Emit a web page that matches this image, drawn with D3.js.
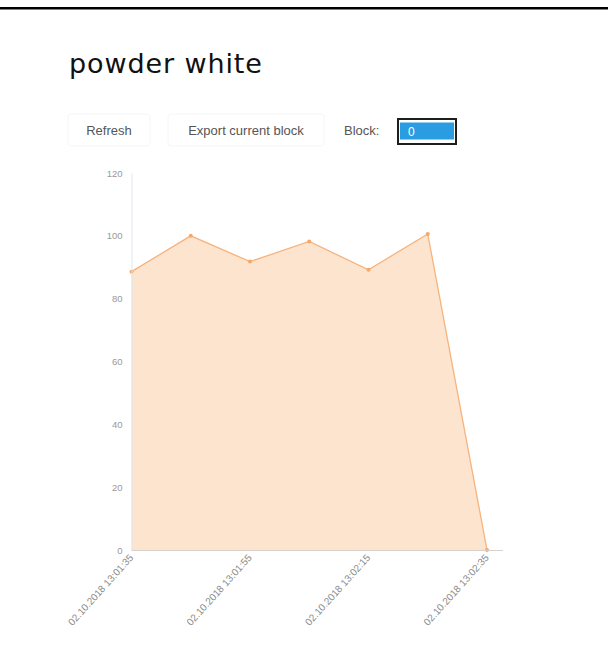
<!DOCTYPE html>
<html><head><meta charset="utf-8">
<script src="https://cdn.jsdelivr.net/npm/d3@7"></script>
<style>
html,body{margin:0;padding:0;background:#fff;}
svg{display:block;}
</style></head>
<body>
<svg id="chart" width="608" height="671"></svg>
<script>
const title = "powder white";
const timeLabels = ["02.10.2018 13:01:35","02.10.2018 13:01:45","02.10.2018 13:01:55","02.10.2018 13:02:05","02.10.2018 13:02:15","02.10.2018 13:02:25","02.10.2018 13:02:35"];
const values = [88.6, 100, 91.8, 98.2, 89.2, 100.6, 0];
const shownTicks = ["02.10.2018 13:01:35","02.10.2018 13:01:55","02.10.2018 13:02:15","02.10.2018 13:02:35"];
const yTicks = [0, 20, 40, 60, 80, 100, 120];
const buttonLabels = ["Refresh", "Export current block"];
const blockLabel = "Block:";
const blockValue = "0";

const parse = d3.timeParse("%d.%m.%Y %H:%M:%S");
const data = timeLabels.map((t, i) => ({t: parse(t), v: values[i]}));

const svg = d3.select("#chart");

// top black rule
svg.append("rect").attr("x", 0).attr("y", 7).attr("width", 608).attr("height", 2.5).attr("fill", "#000");

// title
svg.append("text").attr("x", 69).attr("y", 73)
  .attr("font-family", "DejaVu Sans, Verdana, sans-serif").attr("font-size", 27)
  .attr("letter-spacing", 0.9).attr("fill", "#111").text(title);

// buttons
const btnFont = "Liberation Sans, Arial, sans-serif";
const btns = [{x: 68, w: 82}, {x: 168, w: 156}];
buttonLabels.forEach((b, i) => {
  svg.append("rect").attr("x", btns[i].x).attr("y", 114).attr("width", btns[i].w).attr("height", 32)
    .attr("rx", 3).attr("fill", "#fff").attr("stroke", "#f6f6f6");
  svg.append("text").attr("x", btns[i].x + btns[i].w / 2).attr("y", 134.5)
    .attr("text-anchor", "middle").attr("font-family", btnFont).attr("font-size", 13)
    .attr("fill", "#555").text(b);
});
svg.append("text").attr("x", 344).attr("y", 134.5).attr("font-family", btnFont)
  .attr("font-size", 13).attr("fill", "#555").text(blockLabel);
svg.append("rect").attr("x", 398).attr("y", 119).attr("width", 58).attr("height", 25)
  .attr("fill", "#fff").attr("stroke", "#1e1e1e").attr("stroke-width", 2);
svg.append("rect").attr("x", 400).attr("y", 122.5).attr("width", 54).attr("height", 17)
  .attr("fill", "#2a9de2");
svg.append("text").attr("x", 408).attr("y", 135.5).attr("font-family", btnFont)
  .attr("font-size", 12).attr("fill", "#fff").text(blockValue);

// scales
const x = d3.scaleTime().domain(d3.extent(data, d => d.t)).range([131.5, 487]);
const y = d3.scaleLinear().domain([0, 120]).range([550, 173]);

// area
const area = d3.area().x(d => x(d.t)).y0(y(0)).y1(d => y(d.v));
const line = d3.line().x(d => x(d.t)).y(d => y(d.v));
svg.append("path").datum(data).attr("d", area).attr("fill", "#fde4cf");
svg.append("path").datum(data).attr("d", line).attr("fill", "none")
  .attr("stroke", "#f6b37c").attr("stroke-width", 1.3);
svg.selectAll("circle.pt").data(data).enter().append("circle").attr("class", "pt")
  .attr("cx", d => x(d.t)).attr("cy", d => y(d.v)).attr("r", 2).attr("fill", "#f5a868");

// y axis
const yAxis = d3.axisLeft(y).tickValues(yTicks).tickSize(0).tickPadding(9);
const gy = svg.append("g").attr("transform", "translate(131.5,0)").call(yAxis);
gy.select(".domain").attr("stroke", "#dde6ee");
gy.selectAll("text").attr("font-family", btnFont).attr("font-size", 9.5).attr("fill", "#999");

// x axis
const xAxis = d3.axisBottom(x).tickValues(shownTicks.map(parse)).tickSize(0)
  .tickFormat(d3.timeFormat("%d.%m.%Y %H:%M:%S"));
const gx = svg.append("g").attr("transform", "translate(0,550)").call(xAxis);
gx.select(".domain").remove();
svg.append("line").attr("x1", 131.5).attr("x2", 503).attr("y1", 550.5).attr("y2", 550.5)
  .attr("stroke", "#d9d2cc");
gx.selectAll("text").attr("font-family", btnFont).attr("font-size", 10).attr("fill", "#8a8a8a")
  .attr("text-anchor", "end").attr("dy", null)
  .attr("transform", "translate(2,8) rotate(-48)").attr("y", 0).attr("x", 0);
</script>
</body></html>
